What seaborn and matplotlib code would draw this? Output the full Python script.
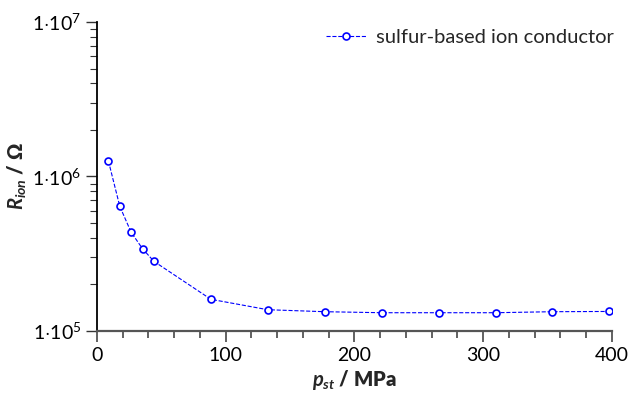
import numpy as np
import pandas as pd
import seaborn as sns
import matplotlib.pyplot as plt
from matplotlib.ticker import LogLocator, FixedLocator, MultipleLocator, FuncFormatter

# Datos
presion_mpa = [8.85, 17.7, 26.5, 35.4, 44.2, 88.5, 132.7, 177.0, 221.2, 265.4, 309.7, 353.9, 398.2]
resistencia_ohm = [1.26e6, 6.4e5, 4.35e5, 3.4e5, 2.82e5, 1.60e5, 1.37e5, 1.33e5,
                   1.31e5, 1.31e5, 1.31e5, 1.33e5, 1.335e5]
serie = "sulfur-based ion conductor"

df = pd.DataFrame({"p": presion_mpa, "R": resistencia_ohm})

sns.set_theme(style="ticks")
plt.rcParams["font.family"] = ["Lato", "DejaVu Sans"]
plt.rcParams["mathtext.fontset"] = "custom"
plt.rcParams["mathtext.rm"] = "Lato"
plt.rcParams["mathtext.it"] = "Lato:italic:bold"
plt.rcParams["mathtext.bf"] = "Lato:bold"

fig = plt.figure(figsize=(6.3, 4.01), dpi=100)
ax = fig.add_axes([0.154, 0.175, 0.817, 0.770])

sns.lineplot(data=df, x="p", y="R", ax=ax, color="#0000ff", linestyle="--",
             linewidth=0.8, marker="o", markersize=5, markerfacecolor="white",
             markeredgecolor="#0000ff", markeredgewidth=1.2, label=serie)

ax.set_yscale("log")
ax.set_ylim(1e5, 1e7)
ax.set_xlim(0, 400)

ax.xaxis.set_major_locator(MultipleLocator(100))
ax.xaxis.set_minor_locator(MultipleLocator(20))
ax.yaxis.set_major_locator(FixedLocator([1e5, 1e6, 1e7]))
ax.yaxis.set_minor_locator(LogLocator(base=10, subs=np.arange(2, 10)))
ax.yaxis.set_major_formatter(FuncFormatter(lambda v, pos: r"$1{\cdot}10^{%d}$" % round(np.log10(v))))
ax.yaxis.set_minor_formatter(FuncFormatter(lambda v, pos: ""))

for s in ["top", "right"]:
    ax.spines[s].set_visible(False)
ax.spines["left"].set_color("black")
ax.spines["left"].set_linewidth(1.3)
ax.spines["bottom"].set_color("#555555")
ax.spines["bottom"].set_linewidth(1.6)

ax.tick_params(axis="both", which="major", labelsize=14, length=8, width=1.0, direction="out", colors="#333333", labelcolor="black")
ax.tick_params(axis="both", which="minor", length=5, width=0.8, direction="out", colors="#333333")
ax.tick_params(axis="x", which="both", width=1.3, colors="#555555", labelcolor="black")

ax.set_xlabel(r"$p_{st}$ / MPa", fontsize=14.5, fontweight="heavy", labelpad=3)
ax.set_ylabel(r"$R_{ion}$ / Ω", fontsize=14.5, fontweight="heavy", labelpad=2)

ax.legend(loc="upper right", bbox_to_anchor=(1.02, 1.005), frameon=False, fontsize=14.5,
          handlelength=2.0, borderaxespad=0.0, handletextpad=0.5)

fig.savefig("out.png", dpi=100)
